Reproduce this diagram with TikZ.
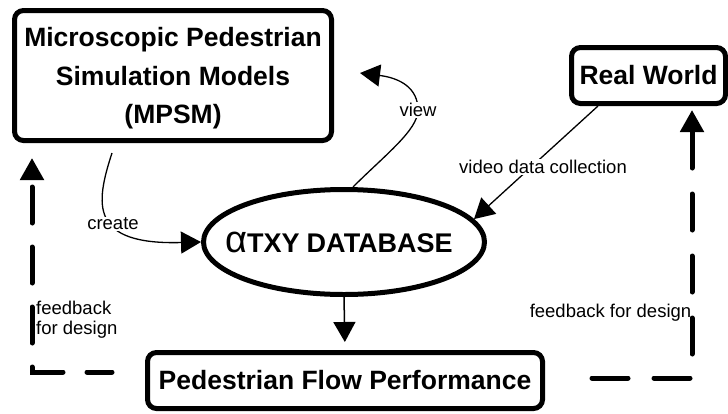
\documentclass[tikz,border=0pt]{standalone}
\usepackage{fontspec}
\setmainfont{Liberation Sans}
\usetikzlibrary{arrows.meta,shapes.geometric}

\begin{document}
\begin{tikzpicture}[x=1pt,y=-1pt,
  box/.style={draw,line width=5pt,rounded corners=9pt,inner sep=0pt,align=center,font=\fontsize{26.5}{38.5}\selectfont\bfseries},
  dbase/.style={draw,ellipse,line width=5pt,minimum width=281pt,minimum height=105pt,inner sep=0pt},
  txt/.style={inner sep=1pt,font=\fontsize{18.5}{20}\selectfont},
  lbl/.style={txt,fill=white},
  conn/.style={line width=1.3pt,-{Triangle[length=20pt,width=22pt]}},
  fb/.style={line width=5pt,line cap=round,-{Triangle[length=22pt,width=23pt]}}]
\useasboundingbox (0,0) rectangle (728,413);
\node[box,minimum width=317pt,minimum height=130pt,text depth=-2pt] at (173,75.5) (mpsm) {Microscopic Pedestrian\\Simulation Models\\(MPSM)};
\node[box,minimum width=154pt,minimum height=56pt] at (648.5,75.5) (rw) {Real World};
\node[box,minimum width=395pt,minimum height=56pt] at (345,380.5) (pff) {Pedestrian Flow Performance};
\node[dbase,label={[font=\fontsize{27}{27}\selectfont\bfseries,xshift=-5pt]center:{\fontsize{38}{38}\selectfont\mdseries α}TXY\hspace{7pt}DATABASE}] at (344,242) (db) {};
\node[txt,align=left,anchor=west] at (35,320) (fbl) {feedback\\for design};
\node[txt] at (610.5,313) (fbr) {feedback for design};

\draw[conn] ([xshift=100pt,yshift=-10pt]mpsm.south west) .. controls (95,205) and (90,245) .. (db.west) node[lbl,pos=0.56] {create};
\draw[conn] ([xshift=9pt]db.north) .. controls (385,155) and (418,130) .. (418,110) node[lbl] {view} .. controls (418,88) and (400,78) .. ([xshift=26pt,yshift=2.5pt]mpsm.east);
\draw[conn] ([xshift=29pt]rw.south west) -- node[lbl,pos=0.54,xshift=12pt] {video data collection} (db.10);
\draw[conn,line width=1.5pt,shorten >=8pt] (db.south) -- (pff.north);
\draw[fb,dash pattern=on 36pt off 24pt,dash phase=11pt,shorten <=33pt,shorten >=15pt] ([yshift=8.5pt]pff.west) -| ([xshift=20pt]mpsm.south west);
\draw[fb,dash pattern=on 36pt off 26pt,shorten <=47pt,shorten >=4pt] ([yshift=2.5pt]pff.east) -| ([xshift=-36pt]rw.south east);
\end{tikzpicture}
\end{document}
